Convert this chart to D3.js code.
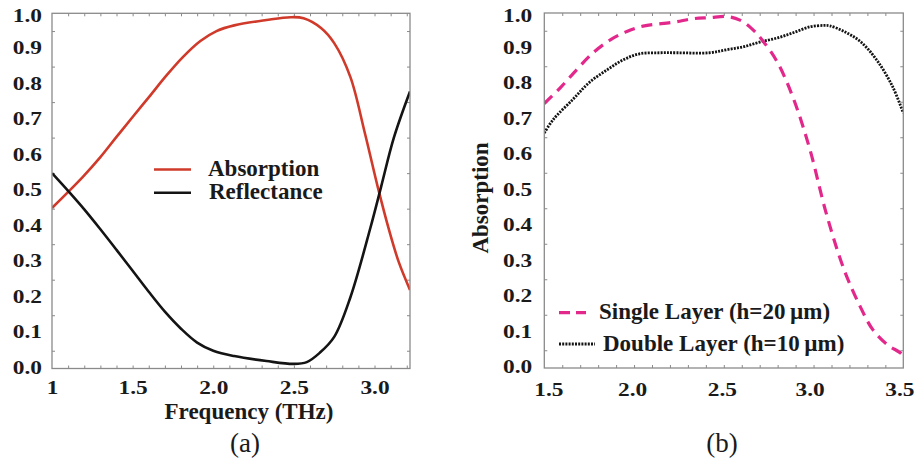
<!DOCTYPE html>
<html>
<head>
<meta charset="utf-8">
<script src="https://cdn.jsdelivr.net/npm/d3@7"></script>
<style>
  html, body { margin: 0; padding: 0; background: #fff; }
  svg { display: block; }
  text { font-family: "Liberation Serif", "Times New Roman", serif; fill: #1a1a1a; }
</style>
</head>
<body>
<svg id="chart" width="917" height="463"></svg>
<script>
// ---------- Panel (a) data ----------
const absFreqA  = [1.00, 1.19, 1.30, 1.40, 1.50, 1.61, 1.71, 1.81, 1.92, 2.02, 2.13, 2.33, 2.48, 2.56, 2.67, 2.75, 2.85, 2.94, 3.025, 3.09, 3.15, 3.22];
const absValsA  = [0.452, 0.539, 0.595, 0.652, 0.708, 0.769, 0.825, 0.876, 0.922, 0.950, 0.966, 0.981, 0.989, 0.986, 0.958, 0.916, 0.821, 0.663, 0.502, 0.390, 0.300, 0.221];
const refFreqA  = [1.00, 1.10, 1.20, 1.30, 1.40, 1.50, 1.60, 1.70, 1.80, 1.90, 2.00, 2.13, 2.33, 2.50, 2.58, 2.66, 2.75, 2.85, 2.975, 3.04, 3.12, 3.22];
const refValsA  = [0.550, 0.500, 0.448, 0.392, 0.334, 0.275, 0.216, 0.160, 0.112, 0.073, 0.050, 0.035, 0.021, 0.013, 0.018, 0.044, 0.089, 0.200, 0.397, 0.510, 0.650, 0.780];
const xTicksA   = [1, 1.5, 2.0, 2.5, 3.0];
const xTickLabelsA = ["1", "1.5", "2.0", "2.5", "3.0"];

// ---------- Panel (b) data ----------
const singleFreqB = [1.50, 1.59, 1.68, 1.77, 1.87, 1.96, 2.05, 2.22, 2.33, 2.42, 2.52, 2.59, 2.66, 2.72, 2.80, 2.89, 2.98, 3.07, 3.17, 3.26, 3.33, 3.41, 3.48, 3.50];
const singleValsB = [0.745, 0.790, 0.840, 0.887, 0.925, 0.948, 0.963, 0.974, 0.984, 0.987, 0.990, 0.980, 0.954, 0.920, 0.860, 0.756, 0.615, 0.437, 0.277, 0.173, 0.108, 0.066, 0.044, 0.035];
const doubleFreqB = [1.50, 1.55, 1.66, 1.75, 1.85, 1.94, 2.03, 2.14, 2.24, 2.42, 2.52, 2.61, 2.70, 2.80, 2.89, 2.98, 3.06, 3.09, 3.17, 3.26, 3.35, 3.44, 3.50];
const doubleValsB = [0.662, 0.700, 0.757, 0.804, 0.840, 0.868, 0.885, 0.888, 0.888, 0.888, 0.897, 0.905, 0.918, 0.930, 0.945, 0.961, 0.965, 0.964, 0.948, 0.920, 0.869, 0.793, 0.718];
const xTicksB   = [1.5, 2.0, 2.5, 3.0, 3.5];
const xTickLabelsB = ["1.5", "2.0", "2.5", "3.0", "3.5"];

// ---------- shared ----------
const yTicks = [0, 0.1, 0.2, 0.3, 0.4, 0.5, 0.6, 0.7, 0.8, 0.9, 1.0];
const yMinorTicks = [0.05, 0.15, 0.25, 0.35, 0.45, 0.55, 0.65, 0.75, 0.85, 0.95];

const svg = d3.select("#chart");
const FONT = '"Liberation Serif", "Times New Roman", serif';
const TICK_STRETCH = 1.3;

function zip(xs, ys) { return xs.map((x, i) => ({x, y: ys[i]})); }

function panel(opts) {
  const x = d3.scaleLinear().domain(opts.xDomain).range([opts.left, opts.right]);
  const y = d3.scaleLinear().domain([0, 1]).range([opts.bottom, opts.top]);
  const g = svg.append("g");

  // minor inward ticks
  const xMinor = d3.range(opts.xDomain[0] + 0.1, opts.xDomain[1] - 0.001, 0.1);
  const tickStyle = sel => { sel.select(".domain").remove(); sel.selectAll("line").attr("stroke", "#8a8a8a").attr("stroke-width", 1); };
  g.append("g").attr("transform", `translate(0,${opts.bottom})`)
    .call(d3.axisBottom(x).tickValues(xMinor).tickSize(-3).tickFormat("")).call(tickStyle);
  g.append("g").attr("transform", `translate(0,${opts.top})`)
    .call(d3.axisTop(x).tickValues(xMinor).tickSize(-3).tickFormat("")).call(tickStyle);
  g.append("g").attr("transform", `translate(${opts.left},0)`)
    .call(d3.axisLeft(y).tickValues(yMinorTicks).tickSize(-3).tickFormat("")).call(tickStyle);
  g.append("g").attr("transform", `translate(${opts.right},0)`)
    .call(d3.axisRight(y).tickValues(yMinorTicks).tickSize(-3).tickFormat("")).call(tickStyle);

  // y tick labels
  const ya = g.append("g").attr("transform", `translate(${opts.left},0)`)
    .call(d3.axisLeft(y).tickValues(yTicks).tickSize(0).tickPadding(0).tickFormat(d3.format(".1f")));
  ya.select(".domain").remove();
  ya.selectAll("text")
    .attr("x", -opts.yLabelGap / TICK_STRETCH)
    .attr("dy", d => d === 1 ? "0.48em" : "0.26em")
    .attr("transform", `scale(${TICK_STRETCH},1)`)
    .style("font-family", FONT).style("font-weight", "bold").style("font-size", "18px").attr("fill", "#1a1a1a");

  // x tick labels
  const xa = g.append("g").attr("transform", `translate(0,${opts.bottom})`)
    .call(d3.axisBottom(x).tickValues(opts.xTicks).tickSize(0).tickPadding(0)
      .tickFormat((d, i) => opts.xTickLabels[i]));
  xa.select(".domain").remove();
  xa.selectAll("text")
    .attr("y", 0).attr("dy", 0)
    .attr("transform", (d, i) => `translate(${opts.xLabelShift ? opts.xLabelShift[i] : 0},${opts.xLabelBaseline - opts.bottom}) scale(${TICK_STRETCH},1)`)
    .style("font-family", FONT).style("font-weight", "bold").style("font-size", "18px").attr("fill", "#1a1a1a");

  // curves
  const line = d3.line().x(d => x(d.x)).y(d => y(d.y)).curve(d3.curveCatmullRom.alpha(0.5));
  const clipId = "clip" + opts.id;
  svg.append("clipPath").attr("id", clipId).append("rect")
    .attr("x", opts.left).attr("y", opts.top - 2).attr("width", opts.right - opts.left).attr("height", opts.bottom - opts.top + 4);
  opts.series.forEach(s => {
    g.append("path").datum(zip(s.xs, s.ys))
      .attr("d", line).attr("fill", "none")
      .attr("stroke", s.color).attr("stroke-width", s.width)
      .attr("stroke-dasharray", s.dash || null)
      .attr("stroke-linejoin", "round")
      .attr("clip-path", `url(#${clipId})`);
  });

  // frame
  g.append("rect").attr("x", opts.left).attr("y", opts.top)
    .attr("width", opts.right - opts.left).attr("height", opts.bottom - opts.top)
    .attr("fill", "none").attr("stroke", "#8a8a8a").attr("stroke-width", 1.3);
  return {x, y, g};
}

// Panel (a)
const RED = "#d03a2a", BLACK = "#141414", PINK = "#e3288c";
panel({
  id: "a", left: 52, right: 410, top: 13.3, bottom: 368.5,
  xDomain: [1, 3.22], xTicks: xTicksA, xTickLabels: xTickLabelsA,
  xLabelBaseline: 393.5, yLabelGap: 10,
  series: [
    {xs: absFreqA, ys: absValsA, color: RED, width: 2.6},
    {xs: refFreqA, ys: refValsA, color: BLACK, width: 2.6}
  ]
});

// Panel (b)
panel({
  id: "b", left: 544.3, right: 903.3, top: 13, bottom: 368,
  xDomain: [1.5, 3.5], xTicks: xTicksB, xTickLabels: xTickLabelsB,
  xLabelShift: [4, -2, -2, -4, -4],
  xLabelBaseline: 396, yLabelGap: 12,
  series: [
    {xs: doubleFreqB, ys: doubleValsB, color: BLACK, width: 2.8, dash: "2,1.2"},
    {xs: singleFreqB, ys: singleValsB, color: PINK, width: 3.2, dash: "11,7"}
  ]
});

// ---------- legends ----------
const legendA = [
  {label: "Absorption", color: RED, y: 169.5, tx: 208, base: 175.5},
  {label: "Reflectance", color: BLACK, y: 192.7, tx: 209, base: 199.3}
];
legendA.forEach(d => {
  svg.append("line").attr("x1", 154).attr("x2", 191).attr("y1", d.y).attr("y2", d.y)
    .attr("stroke", d.color).attr("stroke-width", 2.6);
  svg.append("text").attr("x", d.tx).attr("y", d.base).text(d.label)
    .style("font-weight", "bold").style("font-size", "23px");
});

const legendB = [
  {label: "Single Layer (h=20\u2009\u00b5m)", color: PINK, dash: "11,6", w: 3.2, x2: 586, y: 312.7, tx: 599, base: 318.5},
  {label: "Double Layer (h=10\u2009\u00b5m)", color: BLACK, dash: "2,1.2", w: 2.8, x2: 595, y: 344, tx: 603, base: 350.7}
];
legendB.forEach(d => {
  svg.append("line").attr("x1", 559).attr("x2", d.x2).attr("y1", d.y).attr("y2", d.y)
    .attr("stroke", d.color).attr("stroke-width", d.w).attr("stroke-dasharray", d.dash);
  svg.append("text").attr("x", d.tx).attr("y", d.base).text(d.label)
    .style("font-weight", "bold").style("font-size", "23px");
});

// ---------- axis titles & captions ----------
svg.append("text").attr("x", 249).attr("y", 419).attr("text-anchor", "middle")
  .text("Frequency (THz)").style("font-weight", "bold").style("font-size", "23px");
svg.append("text").attr("transform", "translate(488,198) rotate(-90)").attr("text-anchor", "middle")
  .text("Absorption").style("font-weight", "bold").style("font-size", "23px");
svg.append("text").attr("x", 245).attr("y", 452).attr("text-anchor", "middle")
  .text("(a)").style("font-size", "27px");
svg.append("text").attr("x", 722).attr("y", 452).attr("text-anchor", "middle")
  .text("(b)").style("font-size", "27px");
</script>
</body>
</html>
